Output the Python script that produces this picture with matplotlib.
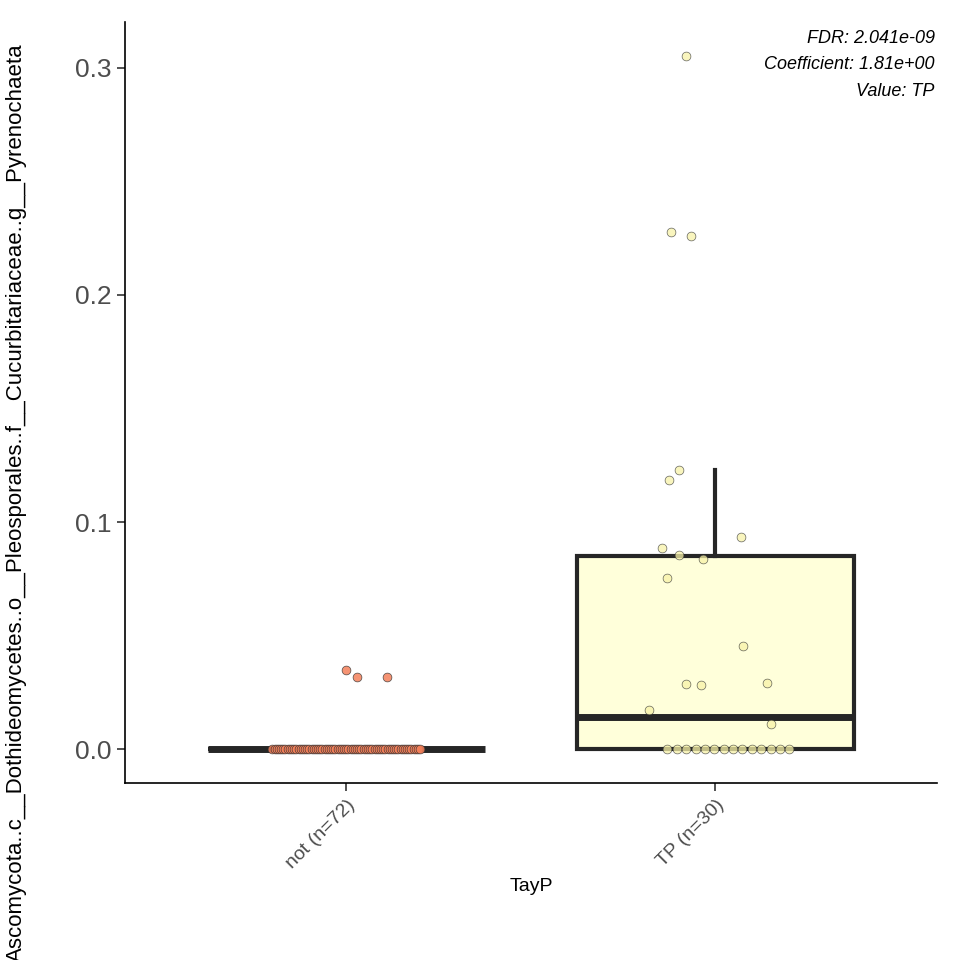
import matplotlib.pyplot as plt
import numpy as np

plt.rcParams['font.family'] = ['Liberation Sans', 'DejaVu Sans']

# Données
groups = ["not (n=72)", "TP (n=30)"]
not_vals = [0.035, 0.032, 0.032] + [0.0] * 69
tp_vals = [0.305, 0.2277, 0.226, 0.1229, 0.1185, 0.0885, 0.0855, 0.0837, 0.0934,
           0.0753, 0.0454, 0.0286, 0.0282, 0.029, 0.0172, 0.011] + [0.0] * 14
tp_jit = [-0.08, -0.12, -0.065, -0.1, -0.125, -0.145, -0.1, -0.035, 0.07,
          -0.13, 0.075, -0.08, -0.04, 0.14, -0.18, 0.15]
not_jit = [0.0, 0.03, 0.11]
annot = ["FDR: 2.041e-09", "Coefficient: 1.81e+00", "Value: TP"]
colors = ["#F4805A", "#FFFFDA"]
pt_colors = ["#F4805A", "#F7F2A8"]

fig, ax = plt.subplots(figsize=(9.6, 9.6), dpi=100)
fig.subplots_adjust(left=0.13, right=0.976, top=0.977, bottom=0.184)

data = [not_vals, tp_vals]
bp = ax.boxplot(data, positions=[0, 1], widths=0.75, patch_artist=True,
                showfliers=False, whis=1.5,
                medianprops=dict(color="#262626", linewidth=5),
                whiskerprops=dict(color="#262626", linewidth=3),
                capprops=dict(linewidth=0),
                boxprops=dict(color="#262626", linewidth=3))
bp["boxes"][0].set_facecolor(colors[0])
bp["boxes"][1].set_facecolor(colors[1])

# jitter des points
n0 = len(not_vals) - len(not_jit)
x0 = list(not_jit) + list(np.linspace(-0.2, 0.2, n0))
ax.scatter(x0, not_vals, s=40, color=pt_colors[0], edgecolor="#333333",
           linewidth=0.5, alpha=0.85, zorder=3)
n1 = len(tp_vals) - len(tp_jit)
x1 = [1 + j for j in tp_jit] + list(1 + np.linspace(-0.13, 0.2, n1))
ax.scatter(x1, tp_vals, s=40, color=pt_colors[1], edgecolor="#333333",
           linewidth=0.5, alpha=0.75, zorder=3)

ax.set_xlim(-0.6, 1.6)
ax.set_ylim(-0.015, 0.32)
ax.set_yticks([0.0, 0.1, 0.2, 0.3])
ax.set_yticklabels(["0.0", "0.1", "0.2", "0.3"])
ax.set_xticks([0, 1])
ax.set_xticklabels(groups, rotation=45, ha="right", rotation_mode="anchor")
ax.tick_params(axis="y", labelsize=19, length=6, width=1.2, color="#333333")
ax.tick_params(axis="x", labelsize=14, length=6, width=1.2, color="#333333")
for lab in ax.get_xticklabels() + ax.get_yticklabels():
    lab.set_color("#4d4d4d")
for s in ["top", "right"]:
    ax.spines[s].set_visible(False)
for s in ["left", "bottom"]:
    ax.spines[s].set_linewidth(1.2)

ax.set_xlabel("TayP", fontsize=14)
# le libellé est coupé en haut, comme dans l'original
ax.set_ylabel("Ascomycota..c__Dothideomycetes..o__Pleosporales..f__Cucurbitariaceae..g__Pyrenochaeta",
              fontsize=16, loc="bottom")
ax.yaxis.set_label_coords(-0.12, -0.235)

for i, t in enumerate(annot):
    ax.text(0.997, 0.99 - i * 0.035, t, transform=ax.transAxes, ha="right",
            va="top", fontsize=13, style="italic")

fig.savefig("out.png")
